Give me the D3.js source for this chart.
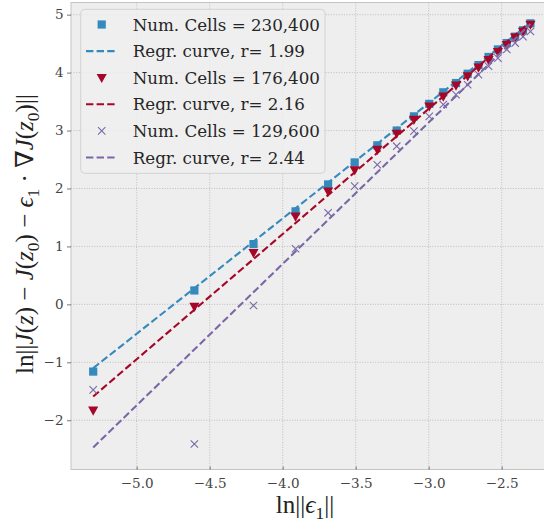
<!DOCTYPE html>
<html>
<head>
<meta charset="utf-8">
<script src="https://cdn.jsdelivr.net/npm/d3@7"></script>
<style>
  body { margin: 0; background: #fff; }
</style>
</head>
<body>
<div id="chart"></div>
<script>
// ln(eps) for eps = 0.005 ... 0.1
const lnEps = [-5.298, -4.605, -4.200, -3.912, -3.689, -3.507, -3.352, -3.219, -3.101, -2.996,
  -2.900, -2.813, -2.733, -2.659, -2.590, -2.526, -2.465, -2.408, -2.354, -2.303]

const cells230k = [-1.16, 0.24, 1.04, 1.605, 2.07, 2.45, 2.745, 3.00, 3.245, 3.46,
  3.66, 3.82, 3.98, 4.13, 4.27, 4.40, 4.51, 4.62, 4.73, 4.85]
const cells176k = [-1.83, -0.04, 0.89, 1.52, 1.95, 2.32, 2.67, 2.95, 3.19, 3.42,
  3.59, 3.78, 3.94, 4.09, 4.22, 4.36, 4.48, 4.61, 4.71, 4.83]
const cells129k = [-1.475, -2.41, -0.02, 0.96, 1.58, 2.04, 2.41, 2.73, 2.99, 3.245,
  3.45, 3.62, 3.79, 3.965, 4.11, 4.25, 4.40, 4.51, 4.62, 4.71]

// regression lines: value at first and last ln(eps)
const fitEnds = [[-1.10, 4.86], [-1.59, 4.88], [-2.47, 4.84]]

const seriesLabels = ['Num. Cells = 230,400', 'Num. Cells = 176,400', 'Num. Cells = 129,600']
const fitLabels = ['Regr. curve, r= 1.99', 'Regr. curve, r= 2.16', 'Regr. curve, r= 2.44']
const colors = ['#348ABD', '#A60628', '#7A68A6']
const markers = ['square', 'triangle', 'cross']

const xTicks = [-5.0, -4.5, -4.0, -3.5, -3.0, -2.5]
const yTicks = [-2, -1, 0, 1, 2, 3, 4, 5]

const SERIF = "'DejaVu Serif', serif"
const dimensions = { width: 544, height: 529 }
const plot = { left: 71, top: 2.5, right: 552.8, bottom: 469.5 }

const svg = d3.select('#chart').append('svg')
  .attr('width', dimensions.width)
  .attr('height', dimensions.height)
  .attr('font-family', SERIF)

const x = d3.scaleLinear().domain([-5.45, -2.15]).range([plot.left, plot.right])
const y = d3.scaleLinear().domain([-2.85, 5.21]).range([plot.bottom, plot.top])

// background
svg.append('rect')
  .attr('x', plot.left).attr('y', plot.top)
  .attr('width', plot.right - plot.left).attr('height', plot.bottom - plot.top)
  .attr('fill', '#eeeeee')
  .attr('stroke', '#c4c4c4')
  .attr('stroke-width', 1)

// grid
const grid = svg.append('g')
  .attr('stroke', '#b2b2b2')
  .attr('stroke-width', 0.8)
  .attr('stroke-dasharray', '1,1.6')
grid.selectAll('.gx').data(xTicks).join('line')
  .attr('x1', d => x(d)).attr('x2', d => x(d))
  .attr('y1', plot.top).attr('y2', plot.bottom)
grid.selectAll('.gy').data(yTicks).join('line')
  .attr('y1', d => y(d)).attr('y2', d => y(d))
  .attr('x1', plot.left).attr('x2', plot.right)

// axes
const xAxis = svg.append('g')
  .attr('transform', `translate(0, ${plot.bottom})`)
  .call(d3.axisBottom(x).tickValues(xTicks).tickSizeInner(-3).tickSizeOuter(0).tickPadding(9)
    .tickFormat(d => d3.format('.1f')(d).replace('-', '\u2212')))
const yAxis = svg.append('g')
  .attr('transform', `translate(${plot.left}, 0)`)
  .call(d3.axisLeft(y).tickValues(yTicks).tickSizeInner(4).tickSizeOuter(0).tickPadding(3.5)
    .tickFormat(d => String(d).replace('-', '\u2212')))
;[xAxis, yAxis].forEach(a => {
  a.attr('font-family', SERIF).attr('font-size', 13.5)
  a.select('.domain').remove()
  a.selectAll('line').attr('stroke', '#555').attr('stroke-width', 0.8)
  a.selectAll('text').attr('fill', '#444')
})

// markers
function drawMarker (g, kind, color, size) {
  if (kind === 'square') {
    g.append('rect').attr('x', -size / 2).attr('y', -size / 2)
      .attr('width', size).attr('height', size).attr('fill', color)
  } else if (kind === 'triangle') {
    const s = size * 0.62
    g.append('path').attr('d', `M${-s},${-s * 0.75}L${s},${-s * 0.75}L0,${s * 1.05}Z`).attr('fill', color)
  } else {
    const s = size * 0.45
    g.append('path').attr('d', `M${-s},${-s}L${s},${s}M${-s},${s}L${s},${-s}`)
      .attr('stroke', color).attr('stroke-width', 1.1).attr('fill', 'none')
  }
}

const allSeries = [cells230k, cells176k, cells129k]
const fitLine = d3.line().x(d => x(d[0])).y(d => y(d[1]))

allSeries.forEach((vals, i) => {
  const pts = vals.map((v, j) => [lnEps[j], v])
  svg.append('g').selectAll('g').data(pts).join('g')
    .attr('transform', d => `translate(${x(d[0])}, ${y(d[1])})`)
    .each(function () { drawMarker(d3.select(this), markers[i], colors[i], 8.2) })

  const ends = [[lnEps[0], fitEnds[i][0]], [lnEps[lnEps.length - 1], fitEnds[i][1]]]
  svg.append('path')
    .attr('d', fitLine(ends))
    .attr('fill', 'none')
    .attr('stroke', colors[i])
    .attr('stroke-width', 2.1)
    .attr('stroke-dasharray', '7.4,3.2')
})

// legend
const legend = svg.append('g')
legend.append('rect')
  .attr('x', 80.7).attr('y', 9.3)
  .attr('width', 244.3).attr('height', 164)
  .attr('rx', 4)
  .attr('fill', 'rgba(238,238,238,0.85)')
  .attr('stroke', 'rgba(204,204,204,0.8)')
  .attr('stroke-width', 1)

const legendItems = []
seriesLabels.forEach((s, i) => {
  legendItems.push({ type: 'marker', i, label: s })
  legendItems.push({ type: 'line', i, label: fitLabels[i] })
})
legendItems.forEach((d, k) => {
  const cy = 24.5 + k * 26.6
  const g = legend.append('g')
  if (d.type === 'marker') {
    const m = g.append('g').attr('transform', `translate(101.7, ${cy})`)
    drawMarker(m, markers[d.i], colors[d.i], 8.2)
  } else {
    g.append('line')
      .attr('x1', 86).attr('x2', 117.3).attr('y1', cy).attr('y2', cy)
      .attr('stroke', colors[d.i]).attr('stroke-width', 2.1)
      .attr('stroke-dasharray', '7.4,3.2')
  }
  g.append('text')
    .attr('x', 132.7).attr('y', cy + 6)
    .attr('fill', '#262626')
    .attr('font-family', SERIF)
    .attr('font-size', 16.7)
    .text(d.label)
})

// axis labels (math style)
function mathLabel (parent, parts) {
  const t = parent.append('text')
    .attr('fill', '#222')
    .attr('font-family', "'Liberation Serif', 'DejaVu Serif', serif")
  let shift = 0
  parts.forEach(p => {
    const ts = t.append('tspan').text(p.t)
    if (p.i) ts.attr('font-style', 'italic')
    const want = p.sub ? 6 : 0
    if (want !== shift) { ts.attr('dy', want - shift); shift = want }
    if (p.sub) ts.attr('font-size', '0.7em')
  })
  return t
}

mathLabel(svg, [
  { t: 'ln||' }, { t: '\u03f5', i: true }, { t: '1', sub: true }, { t: '||' }
])
  .attr('x', 305).attr('y', 513)
  .attr('text-anchor', 'middle')
  .attr('font-size', 25)

mathLabel(svg, [
  { t: 'ln||' }, { t: 'J', i: true }, { t: '(' }, { t: 'z', i: true }, { t: ') \u2212 ' },
  { t: 'J', i: true }, { t: '(' }, { t: 'z', i: true }, { t: '0', sub: true }, { t: ') \u2212 ' },
  { t: '\u03f5', i: true }, { t: '1', sub: true }, { t: ' \u00b7 \u2207' }, { t: 'J', i: true },
  { t: '(' }, { t: 'z', i: true }, { t: '0', sub: true }, { t: ')||' }
])
  .attr('transform', 'translate(33, 234) rotate(-90)')
  .attr('text-anchor', 'middle')
  .attr('font-size', 25)
</script>
</body>
</html>
